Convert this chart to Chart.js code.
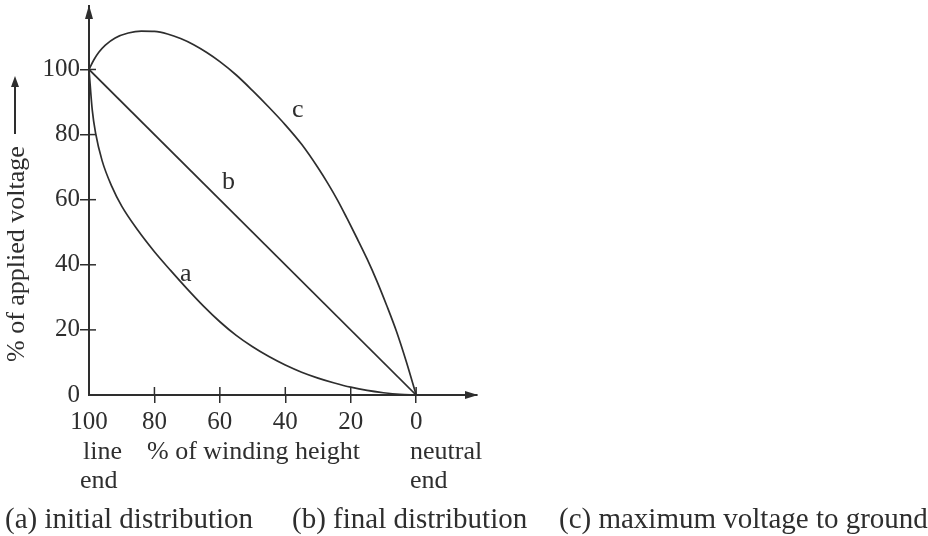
<!DOCTYPE html>
<html>
<head>
<meta charset="utf-8">
<script src="https://cdn.jsdelivr.net/npm/chart.js@4.4.1/dist/chart.umd.min.js"></script>
<style>
  html, body { margin: 0; padding: 0; background: #fff; }
  #wrap { position: relative; width: 928px; height: 536px; overflow: hidden; background: #fff; }
  #c { position: absolute; left: 0; top: 0; }
  .t { position: absolute; font-family: "Liberation Serif", "Times New Roman", serif; color: #2e2e2e;
       line-height: 1; white-space: nowrap; }
  .f26 { font-size: 26px; }
  .f29 { font-size: 29px; }
  #ytitle { font-size: 26px; transform: rotate(-90deg); transform-origin: left top; }
  #yarrow { position: absolute; left: 14px; top: 84px; width: 1.5px; height: 50px; background: #2e2e2e; }
  #yarrowhead { position: absolute; left: 11px; top: 76px; width: 0; height: 0;
       border-left: 4px solid transparent; border-right: 4px solid transparent; border-bottom: 11px solid #2e2e2e; }
</style>
</head>
<body>
<div id="wrap">
  <canvas id="c" width="928" height="536"></canvas>
  <div class="t" id="ytitle" style="left:3px; top:362px;">% of applied voltage</div>
  <div id="yarrow"></div>
  <div id="yarrowhead"></div>
  <div class="t f26" style="left:180px; top:260px;">a</div>
  <div class="t f26" style="left:222px; top:168px;">b</div>
  <div class="t f26" style="left:292px; top:96px;">c</div>
  <div class="t f26" style="left:83px; top:438px;">line</div>
  <div class="t f26" style="left:80px; top:467px;">end</div>
  <div class="t f26" style="left:147px; top:438px;">% of winding height</div>
  <div class="t f26" style="left:410px; top:438px;">neutral</div>
  <div class="t f26" style="left:410px; top:467px;">end</div>
  <div class="t f29" style="left:5px; top:504px;">(a) initial distribution</div>
  <div class="t f29" style="left:292px; top:504px;">(b) final distribution</div>
  <div class="t f29" style="left:559px; top:504px;">(c) maximum voltage to ground</div>
</div>
<script>
// ---- data ----
const xTicks = [100, 80, 60, 40, 20, 0];
const yTicks = [0, 20, 40, 60, 80, 100];

// (a) initial distribution
const curveAx = [100, 99, 98, 96, 93, 90, 85, 80, 75, 70, 65, 60, 55, 50, 45, 40, 35, 30, 25, 20, 15, 10, 5, 0];
const curveAy = [100, 87.5, 80.5, 72, 64, 58, 50.5, 44, 38.2, 32.6, 27.3, 22.5, 18.3, 14.8, 11.8, 9.2, 7.0, 5.2, 3.7, 2.4, 1.4, 0.7, 0.2, 0];

// (b) final distribution
const curveBx = [100, 0];
const curveBy = [100, 0];

// (c) maximum voltage to ground
const curveCx = [100, 98.5, 97, 95, 92, 88, 84, 80, 76, 72, 68, 64, 60, 55, 50, 45, 40, 35, 30, 27, 24, 21, 18, 15, 12, 9, 6, 3, 0];
const curveCy = [100, 103, 105.3, 107.5, 109.7, 111.2, 111.8, 111.7, 110.9, 109.5, 107.6, 105.2, 102.4, 98.3, 93.5, 88.4, 83, 77, 69.8, 65, 59.8, 54, 48, 41.8, 35, 27.5, 19.5, 10.2, 0];

const xMin = -18.6, xMax = 100;
const yMin = 0, yMax = 119.5;

const ink = '#2e2e2e';
const pts = (xs, ys) => xs.map((x, i) => ({ x: x, y: ys[i] }));

function lineDs(xs, ys) {
  return {
    data: pts(xs, ys),
    showLine: true,
    borderColor: ink,
    borderWidth: 1.7,
    pointRadius: 0,
    fill: false,
    cubicInterpolationMode: 'monotone',
    tension: 0.4
  };
}

const axisExtras = {
  id: 'axisExtras',
  afterDraw(chart) {
    const { ctx, chartArea, scales } = chart;
    const xs = scales.x, ys = scales.y;
    const x0 = xs.getPixelForValue(100);
    const y0 = ys.getPixelForValue(0);
    ctx.save();
    ctx.strokeStyle = ink;
    ctx.fillStyle = ink;
    ctx.lineWidth = 1.5;
    // inner halves of tick marks
    yTicks.forEach(v => {
      if (v === 0) return;
      const y = ys.getPixelForValue(v);
      ctx.beginPath(); ctx.moveTo(x0, y); ctx.lineTo(x0 + 7, y); ctx.stroke();
    });
    xTicks.forEach(v => {
      if (v === 100) return;
      const x = xs.getPixelForValue(v);
      ctx.beginPath(); ctx.moveTo(x, y0); ctx.lineTo(x, y0 - 8); ctx.stroke();
    });
    // arrowheads
    const top = chartArea.top;
    ctx.beginPath();
    ctx.moveTo(x0, top - 1);
    ctx.lineTo(x0 - 4, top + 13);
    ctx.lineTo(x0 + 4, top + 13);
    ctx.closePath(); ctx.fill();
    const right = chartArea.right;
    ctx.beginPath();
    ctx.moveTo(right + 1, y0);
    ctx.lineTo(right - 12, y0 - 4);
    ctx.lineTo(right - 12, y0 + 4);
    ctx.closePath(); ctx.fill();
    ctx.restore();
  }
};

new Chart(document.getElementById('c'), {
  type: 'scatter',
  data: {
    datasets: [
      lineDs(curveAx, curveAy),
      lineDs(curveBx, curveBy),
      lineDs(curveCx, curveCy)
    ]
  },
  options: {
    responsive: false,
    animation: false,
    devicePixelRatio: 1,
    layout: { padding: { top: 6, right: 451, left: 0, bottom: 0 } },
    plugins: { legend: { display: false }, tooltip: { enabled: false }, title: { display: false } },
    scales: {
      x: {
        type: 'linear',
        reverse: true,
        min: xMin,
        max: xMax,
        afterBuildTicks: s => { s.ticks = xTicks.map(v => ({ value: v })); },
        afterFit: s => { s.height = 141; s.paddingLeft = 0; s.paddingRight = 0; },
        ticks: {
          autoSkip: false, maxRotation: 0, minRotation: 0, padding: 4,
          color: ink,
          font: { family: 'Liberation Serif', size: 25 }
        },
        grid: {
          drawOnChartArea: false, drawTicks: true, tickLength: 8, lineWidth: 1.5,
          color: c => (c.tick && c.tick.value === 100) ? 'rgba(0,0,0,0)' : ink
        },
        border: { display: true, color: ink, width: 2 }
      },
      y: {
        type: 'linear',
        min: yMin,
        max: yMax,
        afterBuildTicks: s => { s.ticks = yTicks.map(v => ({ value: v })); },
        afterFit: s => { s.width = 89; s.paddingTop = 0; s.paddingBottom = 0; },
        ticks: {
          autoSkip: false, padding: 0,
          color: ink,
          font: { family: 'Liberation Serif', size: 25 }
        },
        grid: {
          drawOnChartArea: false, drawTicks: true, tickLength: 9, lineWidth: 1.5,
          color: c => (c.tick && c.tick.value === 0) ? 'rgba(0,0,0,0)' : ink
        },
        border: { display: true, color: ink, width: 2 }
      }
    }
  },
  plugins: [axisExtras]
});
</script>
</body>
</html>
